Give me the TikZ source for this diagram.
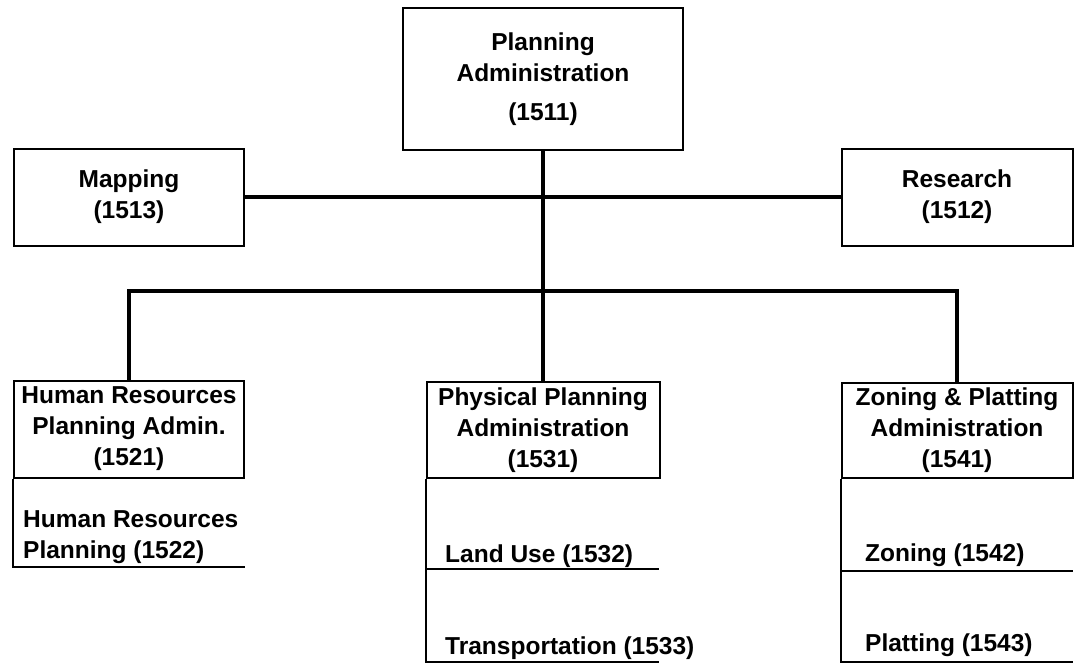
\documentclass[tikz,border=0pt]{standalone}
\usepackage{fontspec}
\setmainfont{Liberation Sans}
\usetikzlibrary{positioning}
\begin{document}
\begin{tikzpicture}[x=1pt, y=-1pt,
    unit/.style={draw, rectangle, line width=2pt, align=center, inner sep=0pt,
        font=\bfseries\fontsize{24.5}{31}\selectfont},
    item/.style={anchor=west, align=left, inner sep=0pt,
        font=\bfseries\fontsize{24.5}{31}\selectfont},
    link/.style={line width=3.5pt},
    rule/.style={line width=2pt}]
    % Planning department organisation chart
    \useasboundingbox (0,0) rectangle (1077,664);

    \node[unit, minimum width=280, minimum height=142] (admin) at (543,79) {Planning\\Administration\\[8pt](1511)};

    \node[unit, minimum width=230, minimum height=97] (mapping) at (129,197) {Mapping\\(1513)};
    \node[unit, minimum width=231, minimum height=97] (research) at (957,197) {Research\\(1512)};

    \node[unit, minimum width=230, minimum height=97] (humres) at (129,429) {Human Resources\\Planning Admin.\\(1521)};
    \node[unit, minimum width=233, minimum height=96] (physical) at (543,430) {Physical Planning\\Administration\\(1531)};
    \node[unit, minimum width=231, minimum height=95] (zoning) at (957,430) {Zoning \& Platting\\Administration\\(1541)};

    \node[item] (hrplan) at (23,537) {Human Resources\\Planning (1522)};
    \node[item] (landuse) at (445,556) {Land Use (1532)};
    \node[item] (transport) at (445,648) {Transportation (1533)};
    \node[item] (zonesub) at (865,555) {Zoning (1542)};
    \node[item] (platsub) at (865,645) {Platting (1543)};

    \coordinate (bus) at (543,291);
    \coordinate (hrline) at (245,567);
    \coordinate (luline) at (659,569);
    \coordinate (trline) at (659,662);
    \coordinate (znline) at (1073,571);
    \coordinate (ptline) at (1073,662);

    \draw[link] (admin.south) -- (bus);
    \draw[link] (mapping.east) -- (research.west);
    \draw[link] (humres.north) |- (bus) -| (zoning.north);
    \draw[link] (bus) -- (physical.north);

    \draw[rule] (humres.south west) |- (hrline);
    \draw[rule] (physical.south west) |- (trline);
    \draw[rule] (physical.south west |- luline) -- (luline);
    \draw[rule] (zoning.south west) |- (ptline);
    \draw[rule] (zoning.south west |- znline) -- (znline);
\end{tikzpicture}
\end{document}
